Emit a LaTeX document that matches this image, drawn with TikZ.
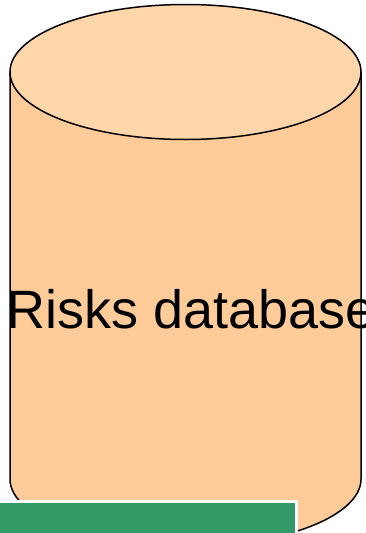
\documentclass[tikz,border=0pt]{standalone}
\usepackage{fontspec}
\setmainfont{Liberation Sans}
\definecolor{bodycol}{HTML}{FFCC99}
\definecolor{topcol}{HTML}{FFD6AA}
\definecolor{greencol}{HTML}{339966}
\begin{document}
\begin{tikzpicture}[x=1pt,y=-1pt,
  outline/.style={draw=black,line width=1.5pt},
  label/.style={font=\fontsize{54}{60}\selectfont,inner sep=0pt,anchor=base}]
\useasboundingbox (0,0) rectangle (365,533);
\clip (0,0) rectangle (365,533);
% body
\path[outline,fill=bodycol] (10,72) -- (10,479) arc[start angle=180,end angle=360,x radius=175.5,y radius=-67.5] -- (361,72) -- cycle;
% top
\path[outline,fill=topcol] (185.5,72) ellipse[x radius=175.5,y radius=67.5];
\node[label] (txt) at (191,328) {Risks database};
% green bar
\path[fill=greencol,draw=white,line width=3pt] (-10,501.5) rectangle (296.5,545);
\end{tikzpicture}
\end{document}
